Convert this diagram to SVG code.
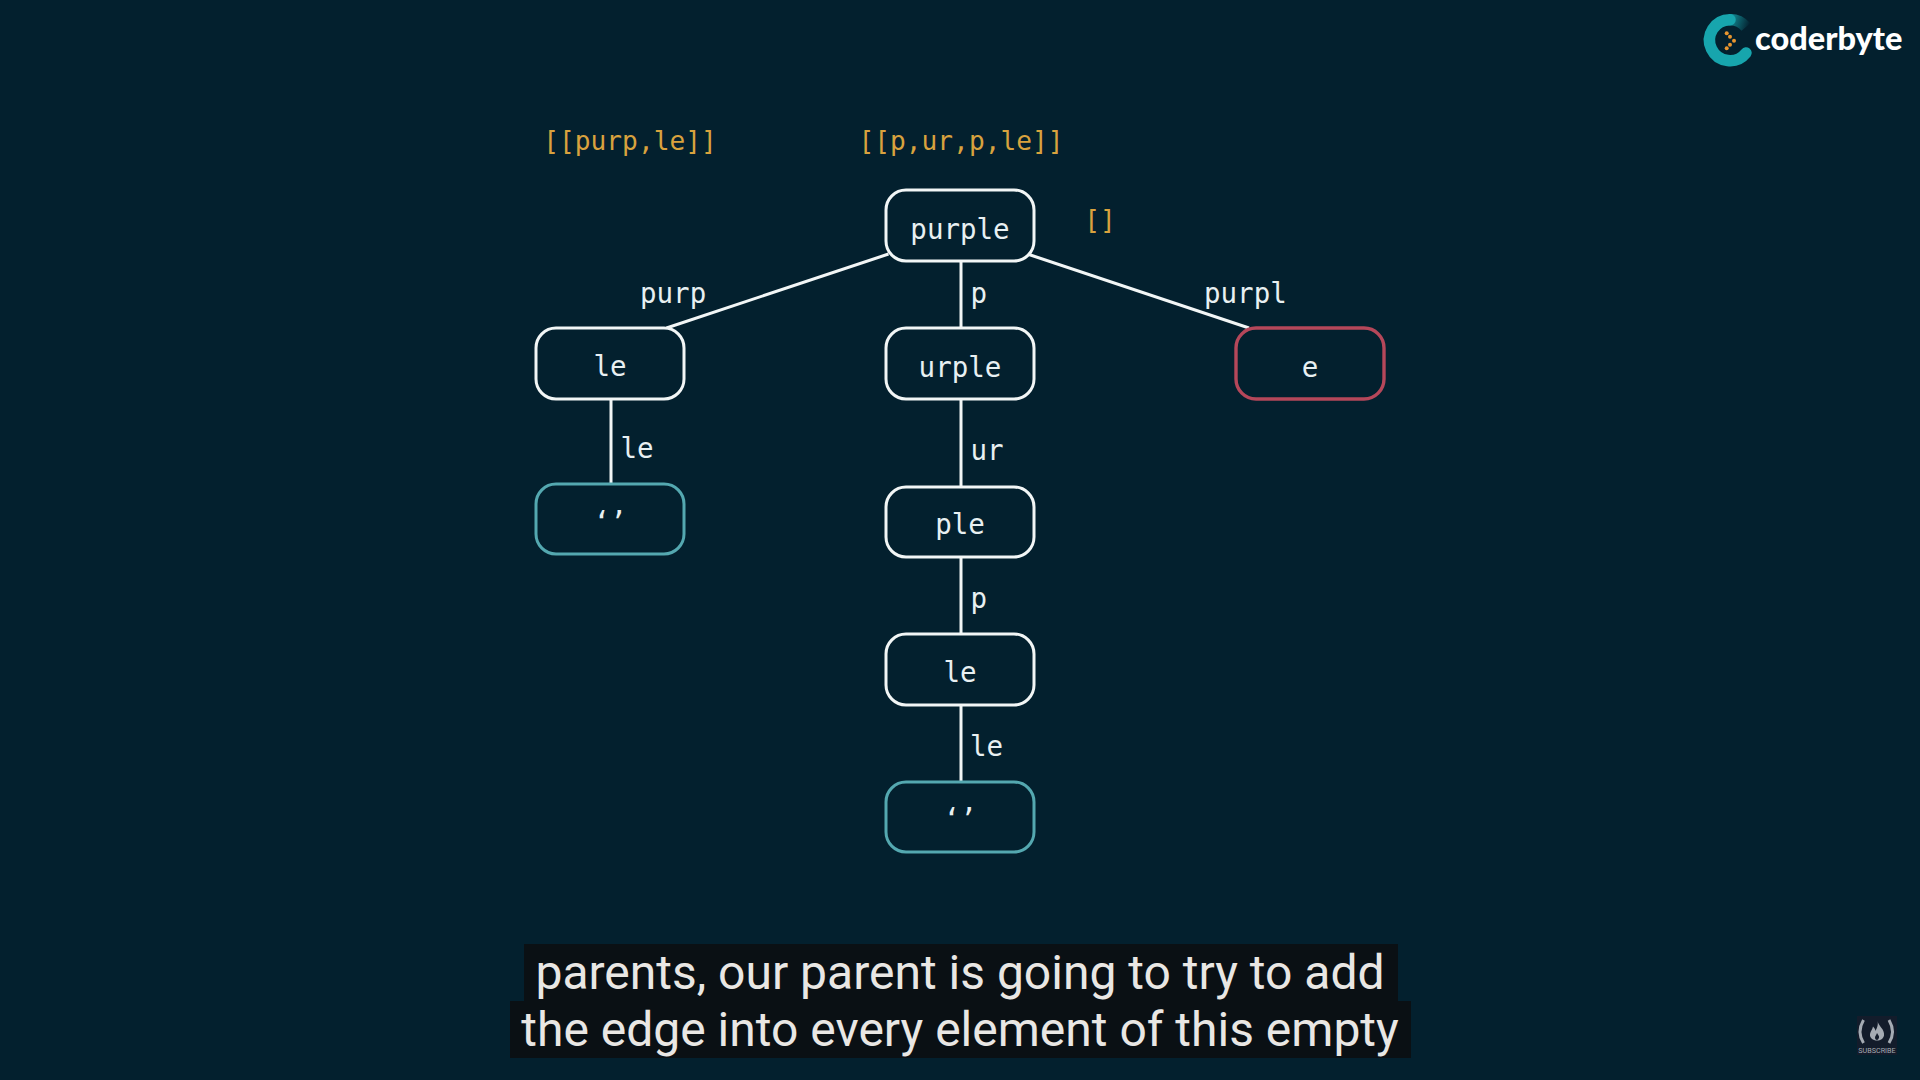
<svg xmlns="http://www.w3.org/2000/svg" width="1920" height="1080" viewBox="0 0 1920 1080">
<style>
.box{fill:#03202e;stroke:#f2f6f6;stroke-width:3}
.teal{stroke:#54a8b0}
.red{stroke:#b5475a;stroke-width:3.4}
.mono{font-family:"DejaVu Sans Mono","Liberation Mono",monospace;font-size:27.5px;fill:#e8f0f2}
.mid{text-anchor:middle}
.gold{fill:#d8a23e;font-size:26.2px}
.edge{stroke:#f2f6f6;stroke-width:3;fill:none}
.cap{font-family:Roboto,"Liberation Sans",sans-serif;font-size:48px;fill:#e9e7e4;text-anchor:middle}
.capbg{fill:#0a1014}
.sub{fill:none;stroke:#a5abb3;stroke-width:3}
</style>
<defs>
<linearGradient id="fade" gradientUnits="userSpaceOnUse" x1="1750" y1="24" x2="1726" y2="16">
<stop offset="0" stop-color="#17a5ad" stop-opacity="0"/><stop offset="1" stop-color="#17a5ad"/>
</linearGradient>
</defs>
<rect width="1920" height="1080" fill="#03202e"/>
<g id="logo">
<path d="M1730 19.7A20.5 20.5 0 1 0 1746 53" fill="none" stroke="#17a5ad" stroke-width="11.5" stroke-linecap="round"/>
<path d="M1729 19.7A20.5 20.5 0 0 1 1746 27" fill="none" stroke="url(#fade)" stroke-width="11.5"/>
<g fill="#e8952f"><circle cx="1726.7" cy="33.3" r="2"/><circle cx="1730" cy="36.7" r="2"/><circle cx="1734" cy="40.7" r="2"/><circle cx="1730" cy="44.7" r="2"/><circle cx="1726.7" cy="48.3" r="2"/></g>
<text x="1755" y="50" font-family="Lato,Inter,sans-serif" font-weight="900" font-size="32.5" fill="#fff">coderbyte</text>
</g>
<g id="connectors">
<path class="edge" d="M888.5 254L666.5 328"/>
<path class="edge" d="M961 261V328"/>
<path class="edge" d="M1029 254.500L1249 328"/>
<path class="edge" d="M611 399V484"/>
<path class="edge" d="M961 399V487"/>
<path class="edge" d="M961 557V634"/>
<path class="edge" d="M961 705V782"/>
</g>
<g id="edge-labels" class="mono">
<text x="640" y="302.500">purp</text>
<text x="970.500" y="302.500">p</text>
<text x="1204" y="302.500">purpl</text>
<text x="620.500" y="458">le</text>
<text x="970.500" y="460">ur</text>
<text x="970.500" y="608">p</text>
<text x="970" y="756">le</text>
</g>
<g id="result-labels" class="mono">
<text class="gold mid" x="630" y="150">[[purp,le]]</text>
<text class="gold mid" x="961" y="150">[[p,ur,p,le]]</text>
<text class="gold mid" x="1100" y="229">[]</text>
</g>
<g id="node-purple"><rect class="box" x="886" y="190" width="148" height="71" rx="20"/><text class="mono mid" x="960" y="239">purple</text></g>
<g id="node-le-left"><rect class="box" x="536" y="328" width="148" height="71" rx="20"/><text class="mono mid" x="610" y="376">le</text></g>
<g id="node-urple"><rect class="box" x="886" y="328" width="148" height="71" rx="20"/><text class="mono mid" x="960" y="377">urple</text></g>
<g id="node-e"><rect class="box red" x="1236" y="328" width="148" height="71" rx="20"/><text class="mono mid" x="1310" y="377">e</text></g>
<g id="node-empty-left"><rect class="box teal" x="536" y="484" width="148" height="70" rx="20"/><text class="mono mid" x="610" y="532">‘’</text></g>
<g id="node-ple"><rect class="box" x="886" y="487" width="148" height="70" rx="20"/><text class="mono mid" x="960" y="534">ple</text></g>
<g id="node-le-mid"><rect class="box" x="886" y="634" width="148" height="71" rx="20"/><text class="mono mid" x="960" y="682">le</text></g>
<g id="node-empty-mid"><rect class="box teal" x="886" y="782" width="148" height="70" rx="20"/><text class="mono mid" x="960" y="829">‘’</text></g>
<g id="caption">
<rect class="capbg" x="524" y="944" width="874" height="57"/>
<rect class="capbg" x="510" y="1001" width="901" height="57"/>
<text class="cap" x="960" y="989">parents, our parent is going to try to add</text>
<text class="cap" x="960" y="1046">the edge into every element of this empty</text>
</g>
<g id="subscribe">
<rect x="1857" y="1016" width="40" height="39" fill="#131c2b"/>
<path class="sub" d="M1863.500 1020Q1856.500 1032 1863.500 1043"/>
<path class="sub" d="M1889 1020Q1896 1032 1889 1043"/>
<path d="M1877.500 1020.500C1878 1026 1885 1029 1884 1035.500C1883.500 1038.500 1880.500 1040.500 1877 1040.500C1873 1040.500 1869.500 1038 1870 1034C1870.500 1031 1872.500 1029.500 1873 1026.500C1874.500 1028 1875.500 1029.500 1875.500 1031C1877 1028 1878.500 1025 1877.500 1020.500Z" fill="#a5abb3"/>
<path d="M1877 1033C1878 1035 1879.500 1036 1879 1037.800C1878.500 1039 1878 1040 1877 1040C1875.800 1040 1875 1039 1875 1037.800C1875 1036 1876.500 1035 1877 1033Z" fill="#131c2b"/>
<text x="1877" y="1053" text-anchor="middle" font-family="Roboto,sans-serif" font-size="7.200" fill="#a5abb3">SUBSCRIBE</text>
</g>
</svg>
